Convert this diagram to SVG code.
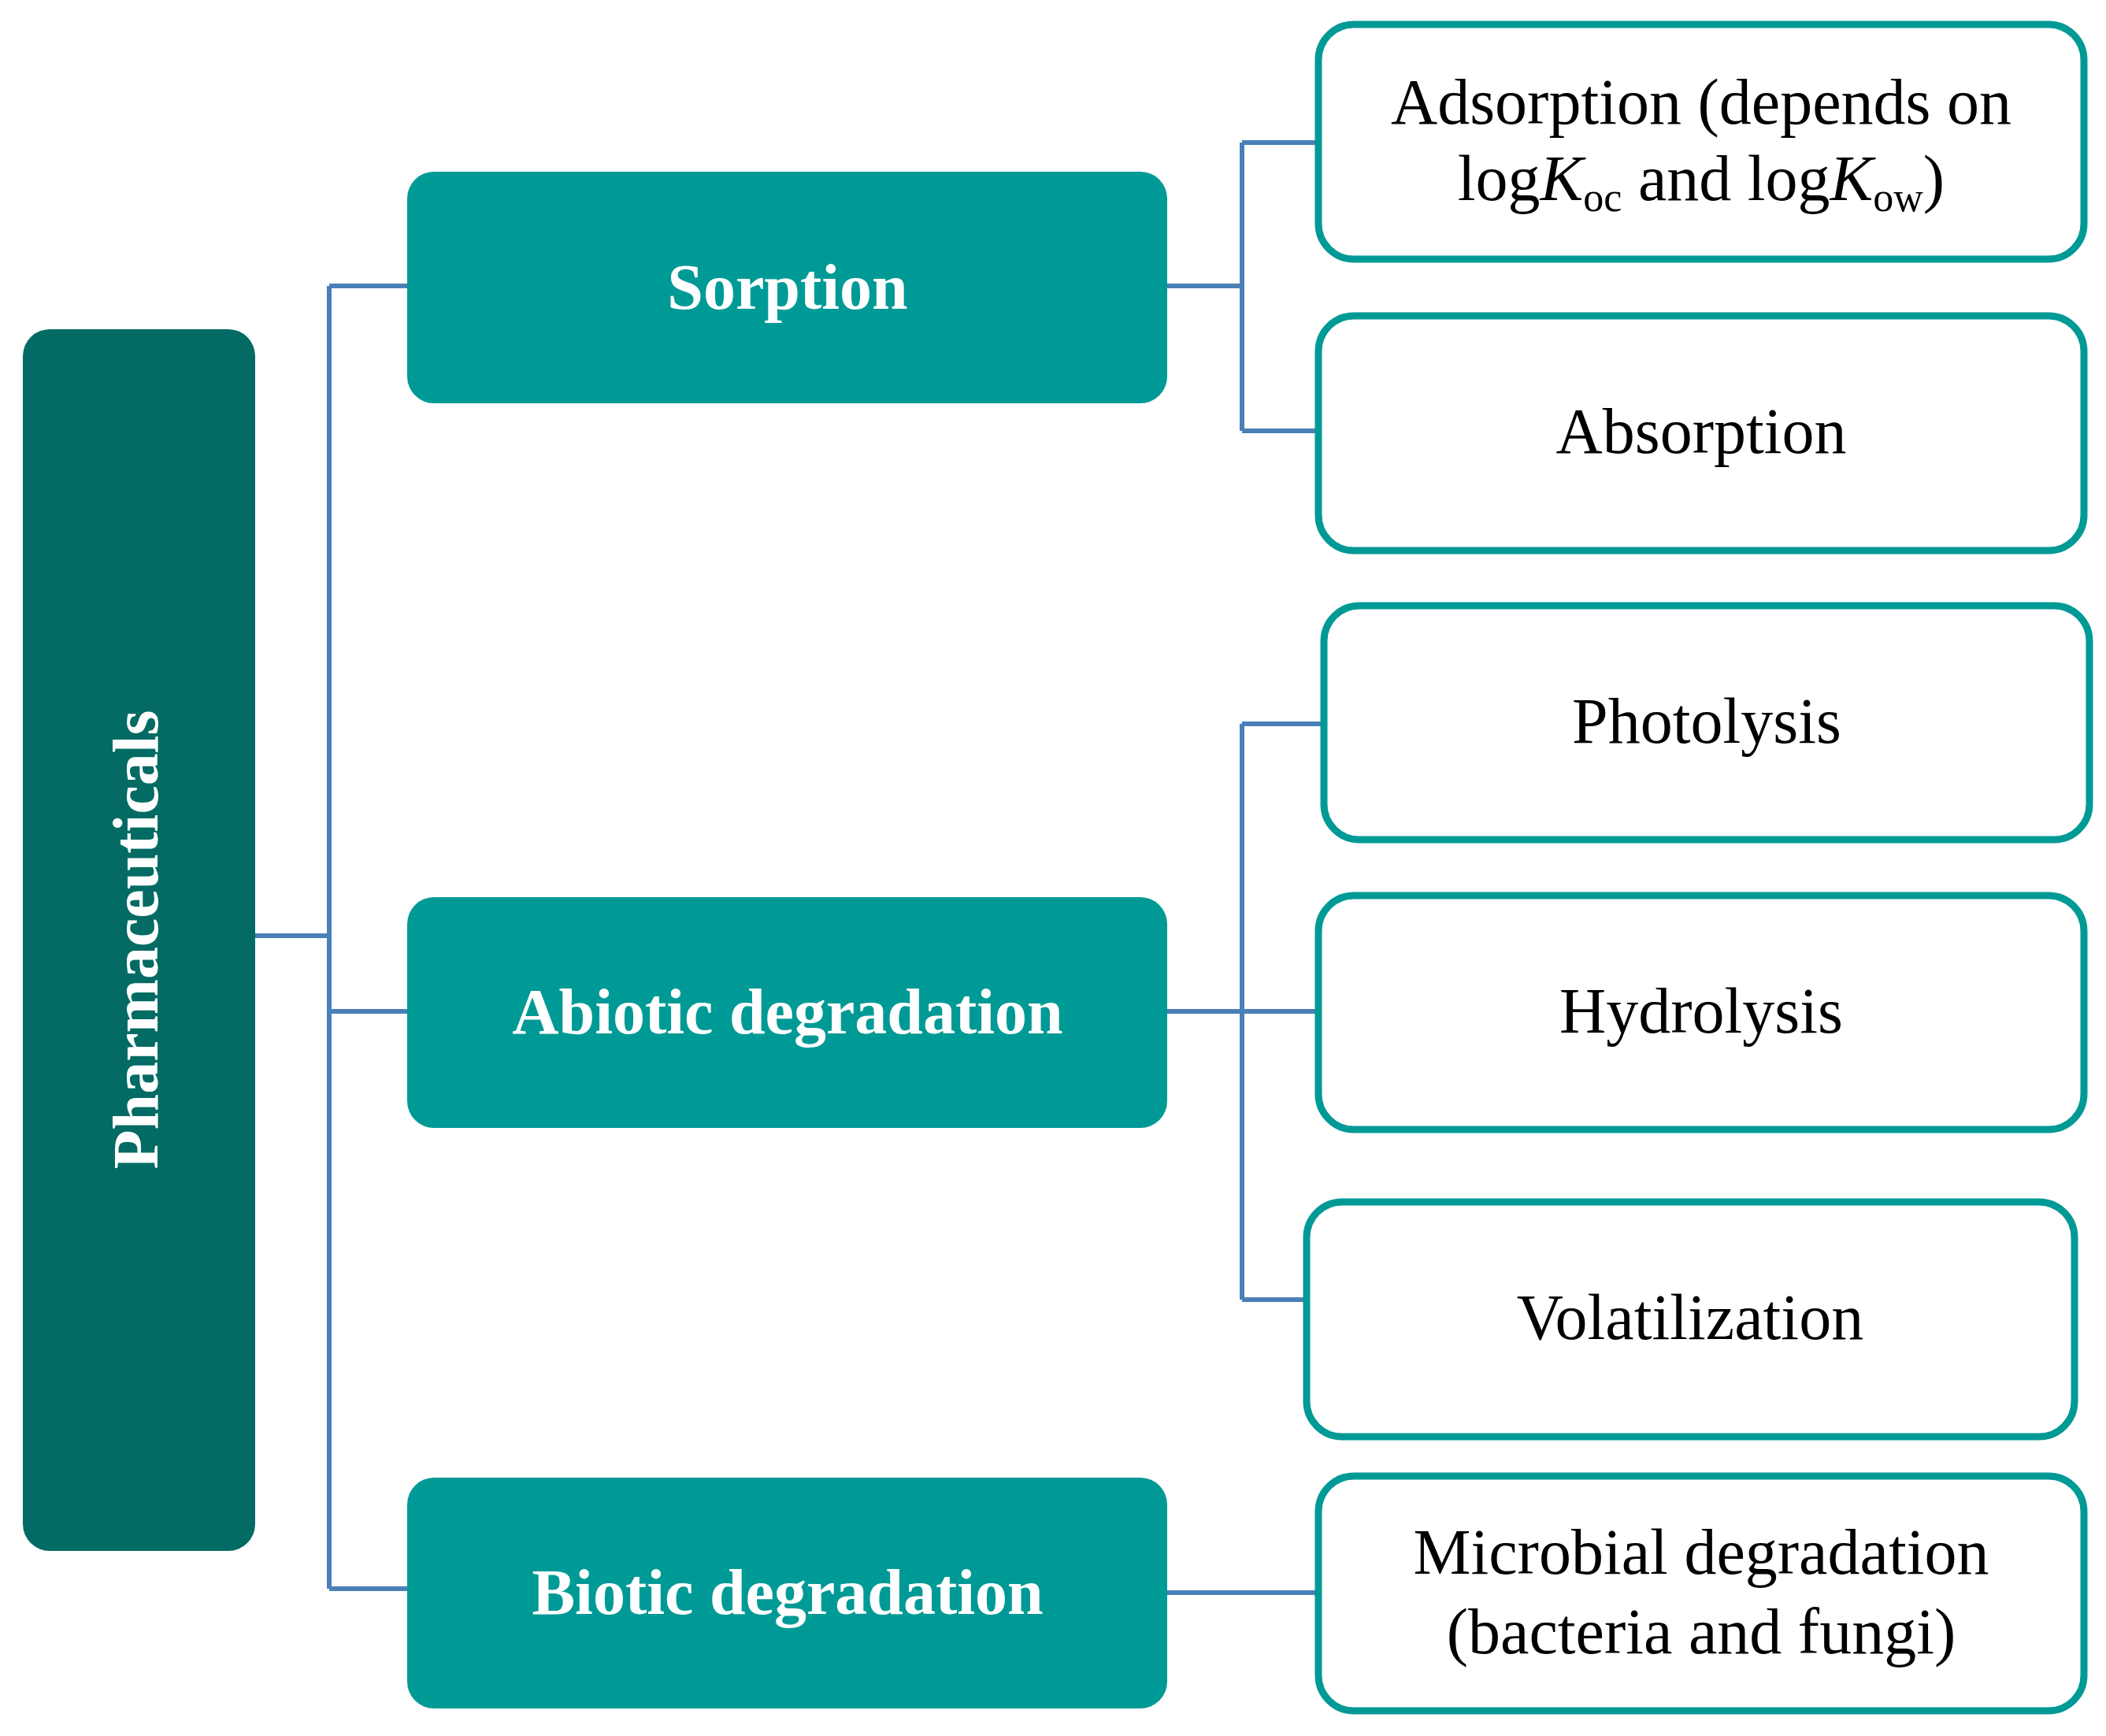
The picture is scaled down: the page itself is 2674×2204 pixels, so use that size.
<svg xmlns="http://www.w3.org/2000/svg" width="2674" height="2204" viewBox="0 0 2674 2204">
<style>
.main{fill:#009a96}
.leaf{fill:#fff;stroke:#009a96;stroke-width:9}
.c{fill:none;stroke:#4a80b8;stroke-width:6}
.wt{font-family:"Liberation Serif","DejaVu Serif",serif;font-weight:bold;fill:#fff;font-size:82px;text-anchor:middle}
.bt{font-family:"Liberation Serif","DejaVu Serif",serif;fill:#000;font-size:82px;text-anchor:middle}
</style>
<rect width="2674" height="2204" fill="#fff"/>
<g id="connectors">
<path class="c" d="M324 1188H418M418 363V2017M418 363H517M418 1284H517M418 2017H517"/>
<path class="c" d="M1482 363H1577M1577 181V547M1577 181H1674M1577 547H1674"/>
<path class="c" d="M1482 1284H1674M1577 919V1650M1577 919H1681M1577 1650H1659"/>
<path class="c" d="M1482 2022H1674"/>
</g>
<g id="pharmaceuticals"><rect x="29" y="418" width="295" height="1551" rx="34" fill="#036b63"/>
<text class="wt" transform="translate(200 1193) rotate(-90)">Pharmaceuticals</text></g>
<g id="sorption"><rect class="main" x="517" y="218" width="965" height="294" rx="34"/><text class="wt" x="1000" y="392">Sorption</text></g>
<g id="abiotic"><rect class="main" x="517" y="1139" width="965" height="293" rx="34"/><text class="wt" x="1000" y="1312">Abiotic degradation</text></g>
<g id="biotic"><rect class="main" x="517" y="1876" width="965" height="293" rx="34"/><text class="wt" x="1000" y="2049">Biotic degradation</text></g>
<g id="adsorption"><rect class="leaf" x="1674" y="31" width="972" height="298" rx="45"/>
<text class="bt" x="2160" y="157">Adsorption (depends on</text>
<text class="bt" x="2160" y="254">log<tspan font-style="italic">K</tspan><tspan font-size="52" dy="14">oc</tspan><tspan dy="-14"> and log</tspan><tspan font-style="italic">K</tspan><tspan font-size="52" dy="14">ow</tspan><tspan dy="-14">)</tspan></text></g>
<g id="absorption"><rect class="leaf" x="1674" y="401" width="972" height="298" rx="45"/><text class="bt" x="2160" y="575">Absorption</text></g>
<g id="photolysis"><rect class="leaf" x="1681" y="769" width="972" height="297" rx="45"/><text class="bt" x="2167" y="943">Photolysis</text></g>
<g id="hydrolysis"><rect class="leaf" x="1674" y="1137" width="972" height="297" rx="45"/><text class="bt" x="2160" y="1311">Hydrolysis</text></g>
<g id="volatilization"><rect class="leaf" x="1659" y="1526" width="975" height="298" rx="45"/><text class="bt" x="2146" y="1700">Volatilization</text></g>
<g id="microbial"><rect class="leaf" x="1674" y="1874" width="972" height="298" rx="45"/>
<text class="bt" x="2160" y="1998">Microbial degradation</text><text class="bt" x="2160" y="2099">(bacteria and fungi)</text></g>
</svg>
